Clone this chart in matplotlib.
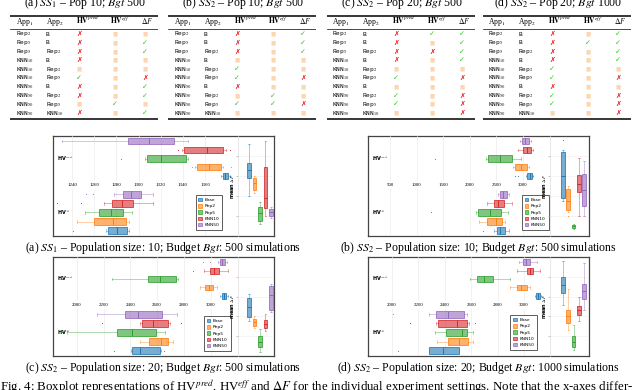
import matplotlib.pyplot as plt
from matplotlib.colors import to_rgba
from matplotlib.patches import Patch

plt.rcParams['font.family'] = ['Liberation Serif', 'DejaVu Sans']
plt.rcParams['mathtext.fontset'] = 'stix'

# ---------------- table data ----------------
app1 = ['Rep$_2$', 'Rep$_5$', 'Rep$_5$', 'KNN$_{10}$', 'KNN$_{10}$', 'KNN$_{10}$',
        'KNN$_{50}$', 'KNN$_{50}$', 'KNN$_{50}$', 'KNN$_{50}$']
app2 = ['B', 'B', 'Rep$_2$', 'B', 'Rep$_2$', 'Rep$_5$', 'B', 'Rep$_2$', 'Rep$_5$', 'KNN$_{10}$']
# x = worse, c = better, - = no difference ; columns HVpred, HVeff, dF
tab_a = ['x--', 'x-c', 'x-c', 'x--', '---', 'c-x', 'x-c', 'x-c', '-c-', 'x-c']
tab_b = ['x-c', 'x-c', 'x-c', '---', 'c--', 'c-x', 'x--', '-c-', 'ccx', '---']
tab_c = ['xcc', 'x-c', 'xxc', 'x-c', '---', 'c-x', '---', 'c-x', 'c-x', '--x']
tab_d = ['x-c', 'xcc', 'x-c', 'x-c', 'c--', 'c-x', 'x--', 'c-x', 'c-x', '--x']
tab_titles = ['(a) $SS_1$ \u2013 Pop 10; $Bgt$ 500', '(b) $SS_2$ \u2013 Pop 10; $Bgt$ 500',
              '(c) $SS_2$ \u2013 Pop 20; $Bgt$ 500', '(d) $SS_2$ \u2013 Pop 20; $Bgt$ 1000']

# ---------------- boxplot data: [whislo, q1, med, q3, whishi] ----------------
methods = ['Base', 'Rep2', 'Rep5', 'KNN10', 'KNN50']
colors = ['#1f77b4', '#ff7f0e', '#2ca02c', '#d62728', '#9467bd']

a_pred = [[1374, 1376, 1378, 1380.5, 1382], [1351, 1352.6, 1363.4, 1374, 1376],
          [1305.8, 1307.6, 1320, 1342.7, 1344.5], [1339, 1341, 1361.6, 1376, 1379],
          [1231, 1290.5, 1309, 1332, 1344.5]]
a_pred_fl = [[], [1348, 1383], [1284], [1335.5, 1382], []]
a_eff = [[1270.6, 1272.4, 1280.5, 1289.5, 1291], [1244.5, 1260, 1277, 1288.6, 1291],
         [1251.7, 1264, 1275, 1286, 1294], [1269, 1276, 1285, 1295, 1313],
         [1278, 1286, 1293, 1302, 1313]]
a_eff_fl = [[1241], [1373], [], [1226.5, 1248], [1252.6, 1259]]
a_df = [[4.0, 5.8, 6.6, 7.3, 9.2], [4.3, 4.6, 5.3, 5.8, 6.0], [1.2, 1.5, 2.3, 2.9, 3.4],
        [2.0, 2.8, 3.8, 6.9, 9.5], [1.8, 2.0, 2.4, 2.7, 2.9]]
a_df_fl = [[], [], [], [], []]

b_pred = [[3057, 3076, 3123, 3170, 3188], [2812, 2850, 2963, 3076, 3113],
          [2305, 2342, 2568, 2794, 2963], [2906, 3000, 3076, 3151, 3188],
          [2944, 2982, 3038, 3113, 3151]]
b_pred_fl = [[2850, 2906], [], [180, 1346], [], []]
b_eff = [[2455, 2512, 2568, 2662, 2737], [2173, 2324, 2493, 2606, 2662],
         [2117, 2154, 2380, 2587, 2718], [2324, 2455, 2530, 2643, 2794],
         [2530, 2568, 2624, 2700, 2737]]
b_eff_fl = [[2248], [], [180, 1271], [], []]
b_df = [[3.5, 3.8, 6.0, 8.4, 8.6], [2.4, 2.6, 3.5, 4.7, 5.0], [0.7, 0.8, 0.95, 1.1, 1.2],
        [2.0, 4.4, 5.2, 6.1, 7.8], [2.0, 3.0, 4.6, 6.2, 7.5]]
b_df_fl = [[9.6], [2.0], [], [], []]

c_pred = [[3071, 3086, 3101, 3116, 3131], [2921, 2959, 2989, 3019, 3049],
          [2262, 2532, 2622, 2742, 2756], [2951, 2996, 3026, 3064, 3131],
          [3056, 3071, 3086, 3108, 3124]]
c_pred_fl = [[], [], [1888], [2869], [2944, 2997]]
c_eff = [[2405, 2412, 2472, 2622, 2630], [2472, 2539, 2629, 2682, 2719],
         [1925, 2300, 2412, 2592, 2659], [2472, 2487, 2569, 2682, 2697],
         [2150, 2360, 2457, 2637, 2749]]
c_eff_fl = [[2277, 2652], [], [1888], [2187, 2779], []]
c_df = [[3.5, 3.9, 4.9, 5.9, 6.3], [2.8, 3.0, 3.4, 3.7, 4.0], [0.4, 0.9, 1.4, 2.0, 2.7],
        [2.5, 2.8, 3.2, 3.6, 4.2], [4.4, 4.6, 6.2, 7.1, 7.3]]
c_df_fl = [[], [], [], [], []]

d_pred = [[3083, 3091, 3106, 3121, 3129], [2894, 2947, 2977, 3023, 3045],
          [2591, 2644, 2697, 2765, 2894], [2947, 3023, 3045, 3068, 3121],
          [2962, 2992, 3015, 3045, 3098]]
d_pred_fl = [[], [], [], [], []]
d_eff = [[2280, 2280, 2386, 2508, 2508], [2341, 2424, 2508, 2576, 2614],
         [2326, 2409, 2530, 2568, 2614], [2333, 2348, 2492, 2568, 2583],
         [2280, 2333, 2424, 2545, 2568]]
d_eff_fl = [[2045], [], [], [2136, 2629], [2008]]
d_df = [[5.2, 6.4, 7.2, 8.0, 9.6], [2.6, 3.3, 4.0, 4.6, 6.8], [0.6, 0.9, 1.4, 2.0, 3.1],
        [3.5, 4.1, 4.6, 5.1, 6.0], [4.6, 5.8, 6.6, 7.3, 9.4]]
d_df_fl = [[], [], [], [], []]

a_ticks = [1240, 1260, 1280, 1300, 1320, 1340, 1360]
b_ticks = [500, 1000, 1500, 2000, 2500, 3000]
c_ticks = [2000, 2200, 2400, 2600, 2800, 3000]
d_ticks = [2000, 2200, 2400, 2600, 2800, 3000]

captions = ['(a) $SS_1$ \u2013 Population size: 10; Budget $Bgt$: 500 simulations',
            '(b) $SS_2$ \u2013 Population size: 10; Budget $Bgt$: 500 simulations',
            '(c) $SS_2$ \u2013 Population size: 20; Budget $Bgt$: 500 simulations',
            '(d) $SS_2$ \u2013 Population size: 20; Budget $Bgt$: 1000 simulations']
fig_caption = ('Fig. 4: Boxplot representations of HV$^{pred}$, HV$^{eff}$ and $\\Delta F$ for the '
               'individual experiment settings. Note that the x-axes differ-')

W, H = 640, 390
fig = plt.figure(figsize=(6.4, 3.9), dpi=100)


def px(x0, y0, x1, y1):
    return [x0 / W, 1 - y1 / H, (x1 - x0) / W, (y1 - y0) / H]


# ---------------- tables ----------------
mark_style = {'x': ('\u2717', '#e8141c'), 'c': ('\u2713', '#2ec41c'), '-': ('\u25a0', '#fbd6b0')}
tab_left = [10, 168, 327, 483]
for k, tab in enumerate([tab_a, tab_b, tab_c, tab_d]):
    ax = fig.add_axes(px(tab_left[k], 0, tab_left[k] + 148, 125))
    ax.set_xlim(0, 148)
    ax.set_ylim(125, 0)
    ax.axis('off')
    ax.axhline(16, color='k', lw=1.1)
    ax.axhline(29, color='k', lw=0.5)
    ax.axhline(119, color='k', lw=1.1)
    hdr = ['App$_1$', 'App$_2$', '$\\mathbf{HV}^{pred}$', '$\\mathbf{HV}^{eff}$', '$\\Delta F$']
    for x, h in zip([5.5, 35.5, 65.5, 100, 131], hdr):
        ax.text(x, 24, h, fontsize=5.5, va='baseline')
    for i in range(10):
        y = 34 + 8.8 * i
        ax.text(5.5, y, app1[i], fontsize=4.5, family='Liberation Mono', va='center')
        ax.text(35.5, y, app2[i], fontsize=4.5, family='Liberation Mono', va='center')
        for x, m in zip([69, 105, 135], tab[i]):
            s, col = mark_style[m]
            ax.text(x, y, s, fontsize=5 if m != '-' else 4, color=col,
                    family='DejaVu Sans', ha='center', va='center')
    fig.text((tab_left[k] + 75) / W, 1 - 6 / H, tab_titles[k], fontsize=8.5,
             ha='center', va='baseline')

# ---------------- boxplot panels ----------------
panels = [
    dict(fr=(53, 136, 274, 236), xm=238, top=(136, 181), bot=(189, 236), xlim=(1222.9, 1389.6),
         ticks=a_ticks, pred=(a_pred, a_pred_fl), eff=(a_eff, a_eff_fl), df=(a_df, a_df_fl),
         leg=(0.76, 0.085), dfx=(-1, 5.55)),
    dict(fr=(368, 136, 589, 236), xm=550, top=(136, 181), bot=(189, 236), xlim=(86, 3508),
         ticks=b_ticks, pred=(b_pred, b_pred_fl), eff=(b_eff, b_eff_fl), df=(b_df, b_df_fl),
         leg=(0.835, 0.085), dfx=(-1.5, 5.95)),
    dict(fr=(53, 257, 274, 356), xm=238, top=(257, 301), bot=(309, 356), xlim=(1820, 3206),
         ticks=c_ticks, pred=(c_pred, c_pred_fl), eff=(c_eff, c_eff_fl), df=(c_df, c_df_fl),
         leg=(0.805, 0.064), dfx=(-1, 5.55)),
    dict(fr=(368, 257, 589, 356), xm=550, top=(257, 301), bot=(309, 356), xlim=(1818, 3197),
         ticks=d_ticks, pred=(d_pred, d_pred_fl), eff=(d_eff, d_eff_fl), df=(d_df, d_df_fl),
         leg=(0.77, 0.085), dfx=(-1.5, 5.95)),
]


def draw_boxes(ax, vals, fls, orient):
    for i, (v, fl) in enumerate(zip(vals, fls)):
        c = colors[i]
        st = dict(whislo=v[0], q1=v[1], med=v[2], q3=v[3], whishi=v[4], fliers=fl)
        ax.bxp([st], positions=[i + 1], widths=0.7, orientation=orient, patch_artist=True,
               manage_ticks=False,
               boxprops=dict(facecolor=to_rgba(c, 0.6), edgecolor=to_rgba(c, 0.9), lw=0.6),
               whiskerprops=dict(color=to_rgba(c, 0.45), lw=0.6),
               capprops=dict(color=to_rgba(c, 0.45), lw=0.6),
               medianprops=dict(color=c, lw=0.7),
               flierprops=dict(marker='.', markersize=1.5, markerfacecolor=c,
                               markeredgecolor='none'),
               capwidths=0.3)


for k, p in enumerate(panels):
    x0, y0, x1, y1 = p['fr']
    fr = fig.add_axes(px(x0, y0, x1, y1))
    fr.set_xticks([])
    fr.set_yticks([])
    fr.patch.set_alpha(0)
    for s in fr.spines.values():
        s.set_color('#444444')
        s.set_linewidth(0.9)

    for part, (ya, yb), lab in [('pred', p['top'], 'HV$^{pred}$'), ('eff', p['bot'], 'HV$^{eff}$')]:
        ax = fig.add_axes(px(x0, ya, p['xm'], yb))
        ax.patch.set_alpha(0)
        vals, fls = p[part]
        draw_boxes(ax, vals, fls, 'horizontal')
        ax.set_xlim(*p['xlim'])
        ax.set_ylim(0.4, 5.6)
        ax.set_xticks(p['ticks'])
        ax.set_yticks([])
        ax.grid(axis='x', color='#ebebeb', lw=0.5)
        ax.set_axisbelow(True)
        for s in ax.spines.values():
            s.set_visible(False)
        if part == 'pred':
            ax.tick_params(axis='x', labelsize=3.5, length=0, pad=1.5)
        else:
            ax.tick_params(axis='x', labelbottom=False, length=0)
            handles = [Patch(facecolor=to_rgba(c, 0.6), edgecolor=c, lw=0.5) for c in colors]
            leg = ax.legend(handles, methods, loc='lower left', bbox_to_anchor=p['leg'],
                            frameon=True, fancybox=False, handlelength=0.8,
                            handleheight=0.8, handletextpad=0.6, labelspacing=0.45,
                            borderpad=0.6, prop={'family': 'DejaVu Sans', 'size': 3.2})
            leg.get_frame().set_edgecolor('#333333')
            leg.get_frame().set_linewidth(0.7)
        ax.text(0.02, 0.5, lab, transform=ax.transAxes, fontsize=3.5, fontweight='bold',
                family='DejaVu Sans', va='center')

    ax = fig.add_axes(px(p['xm'], y0, x1, y1))
    ax.patch.set_alpha(0)
    vals, fls = p['df']
    draw_boxes(ax, vals, fls, 'vertical')
    ax.set_xlim(*p['dfx'])
    ax.set_ylim(0, 10)
    ax.set_xticks([])
    ax.set_yticks([2, 4, 6, 8])
    ax.tick_params(axis='y', length=1.2, width=0.4, color='#999999', labelleft=False)
    ax.grid(axis='y', color='#f0f0f0', lw=0.5)
    for name, s in ax.spines.items():
        s.set_visible(name == 'left')
    ax.spines['left'].set_color('#dddddd')
    ax.spines['left'].set_linewidth(0.5)
    ax.set_ylabel('mean $\\Delta F$', fontsize=3.5, labelpad=0.5, fontweight='bold',
                  family='DejaVu Sans')

    cy = y1 + 12
    fig.text((x0 + x1) / 2 / W, 1 - cy / H, captions[k], fontsize=8.5, ha='center',
             va='center')

fig.text(0.0, 1 - 391 / H, fig_caption, fontsize=9.3, ha='left', va='baseline')

fig.savefig('out.png', dpi=100)
